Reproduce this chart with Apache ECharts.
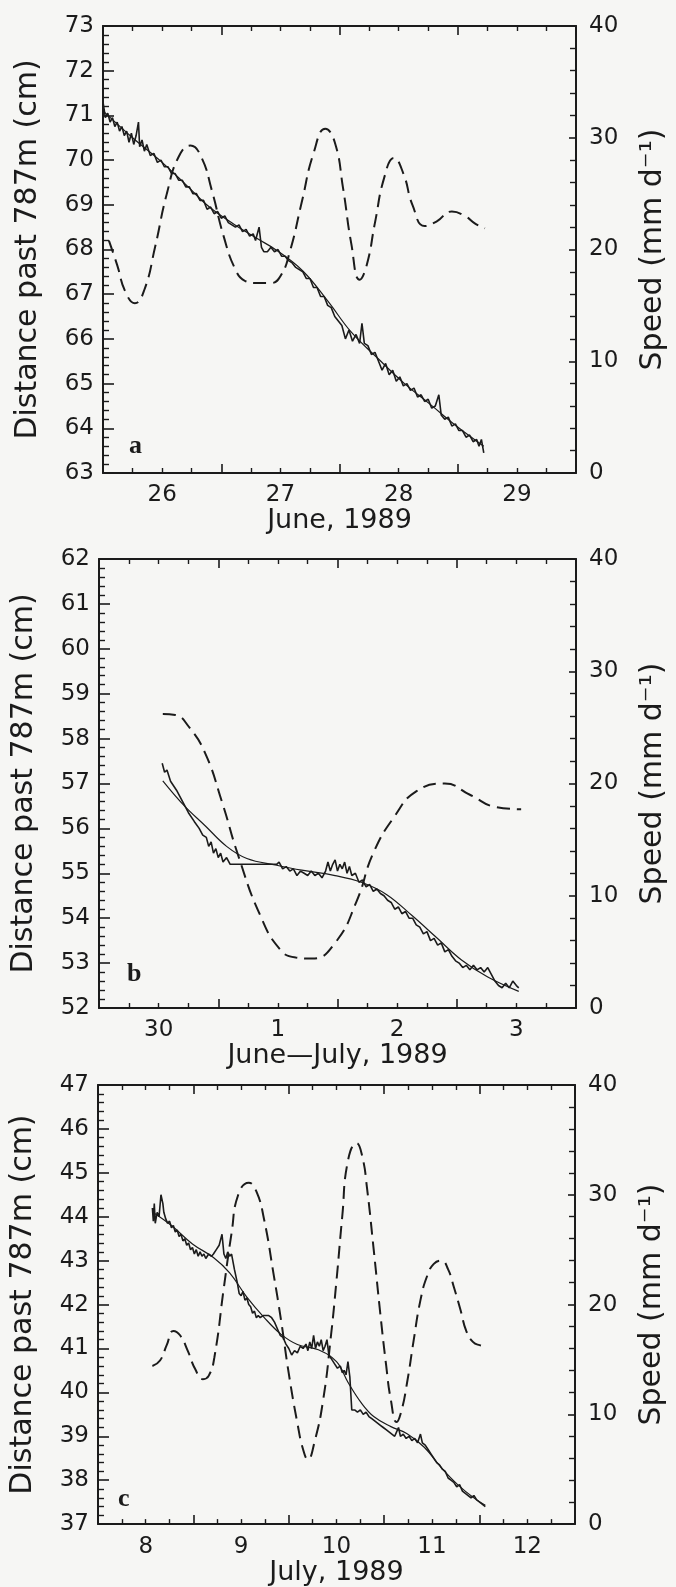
<!DOCTYPE html>
<html>
<head>
<meta charset="utf-8">
<script src="https://cdn.jsdelivr.net/npm/echarts@6/dist/echarts.min.js"></script>
<style>
html,body{margin:0;padding:0;background:#f6f6f4;}
#chart{width:676px;height:1587px;}
</style>
</head>
<body>
<div id="chart"></div>
<script>
// ---------- tick labels / categories ----------
const xLabelsA = ['26', '27', '28', '29'];
const xLabelsB = ['30', '1', '2', '3'];
const xLabelsC = ['8', '9', '10', '11', '12'];
const xTitleA = 'June, 1989';
const xTitleB = 'June\u2014July, 1989';
const xTitleC = 'July, 1989';
const yTitleLeft = 'Distance past 787m (cm)';
const yTitleRight = 'Speed (mm d\u207B\u00B9)';
const panelLetters = ['a', 'b', 'c'];
const daySpans = [4, 4, 5];
const distRangeA = [63, 73];
const distRangeB = [52, 62];
const distRangeC = [37, 47];
const speedRange = [0, 40];

// ---------- panel a (x: days from axis start) ----------
const measuredA = [
[0.00,71.3],[0.02,70.95],[0.04,71.05],[0.06,70.85],[0.08,70.95],[0.10,70.75],[0.12,70.85],[0.14,70.65],
[0.16,70.75],[0.18,70.55],[0.20,70.65],[0.22,70.4],[0.24,70.6],[0.26,70.35],[0.28,70.55],[0.30,70.85],
[0.31,70.3],[0.33,70.45],[0.35,70.2],[0.37,70.35],[0.40,70.1],[0.43,70.15],[0.46,69.95],[0.49,70.0],
[0.52,69.85],[0.55,69.85],[0.58,69.7],[0.61,69.7],[0.64,69.55],[0.67,69.55],[0.70,69.4],[0.73,69.4],
[0.76,69.25],[0.79,69.25],[0.82,69.1],[0.85,69.1],[0.88,68.9],[0.91,68.95],[0.94,68.8],[0.97,68.85],
[1.00,68.7],[1.03,68.75],[1.06,68.6],[1.09,68.55],[1.12,68.5],[1.15,68.55],[1.18,68.4],[1.21,68.45],
[1.24,68.3],[1.27,68.35],[1.29,68.2],[1.32,68.5],[1.34,68.05],[1.36,67.95],[1.39,67.95],[1.42,68.05],
[1.45,67.95],[1.48,68.0],[1.51,67.85],[1.54,67.85],[1.57,67.75],[1.60,67.7],[1.63,67.6],[1.66,67.55],
[1.69,67.5],[1.72,67.35],[1.75,67.35],[1.78,67.15],[1.81,67.15],[1.84,66.95],[1.87,66.95],[1.90,66.75],
[1.93,66.7],[1.96,66.5],[1.99,66.4],[2.02,66.3],[2.05,66.0],[2.08,66.2],[2.11,65.95],[2.14,66.1],
[2.17,65.9],[2.19,66.35],[2.21,65.9],[2.24,65.85],[2.27,65.65],[2.30,65.7],[2.33,65.5],[2.36,65.3],
[2.39,65.45],[2.42,65.2],[2.45,65.3],[2.48,65.05],[2.51,65.15],[2.54,64.95],[2.57,65.0],[2.60,64.85],
[2.63,64.9],[2.66,64.7],[2.69,64.75],[2.72,64.6],[2.75,64.65],[2.78,64.45],[2.81,64.5],[2.84,64.75],
[2.86,64.3],[2.89,64.2],[2.92,64.25],[2.95,64.05],[2.98,64.1],[3.01,63.95],[3.04,63.95],[3.07,63.8],
[3.10,63.85],[3.13,63.7],[3.16,63.75],[3.18,63.6],[3.20,63.75],[3.22,63.45]
];
const fitA = [
[0,71.1],[0.25,70.5],[0.5,69.95],[0.72,69.4],[0.9,68.95],[1.11,68.56],[1.3,68.25],[1.47,67.98],
[1.69,67.52],[1.9,66.85],[2.1,66.15],[2.33,65.55],[2.55,65.0],[2.77,64.53],[2.98,64.07],[3.22,63.6]
];
const speedA = [
[0.05,20.8],[0.12,18.6],[0.19,16.2],[0.27,15.2],[0.35,16.4],[0.44,20.2],[0.54,25.0],[0.64,28.3],
[0.74,29.3],[0.83,28.3],[0.92,25.3],[1.02,21.2],[1.12,18.2],[1.2,17.2],[1.3,17.0],[1.42,17.0],
[1.5,17.6],[1.58,19.8],[1.68,24.2],[1.78,28.6],[1.88,30.8],[1.96,29.6],[2.03,25.5],[2.1,20.5],
[2.17,17.3],[2.23,18.6],[2.3,22.4],[2.38,26.5],[2.46,28.2],[2.54,26.8],[2.62,23.9],[2.72,22.1],
[2.82,22.5],[2.95,23.4],[3.06,23.0],[3.15,22.3],[3.23,21.9]
];

// ---------- panel b ----------
const measuredB = [
[0.53,57.45],[0.55,57.25],[0.57,57.3],[0.60,57.05],[0.65,56.85],[0.70,56.6],[0.75,56.35],[0.80,56.15],
[0.84,56.0],[0.87,55.85],[0.90,55.8],[0.92,55.6],[0.94,55.7],[0.96,55.45],[0.98,55.55],[1.00,55.35],
[1.02,55.45],[1.04,55.25],[1.07,55.35],[1.10,55.2],[1.14,55.2],[1.49,55.2],[1.51,55.25],[1.54,55.1],
[1.57,55.15],[1.60,55.05],[1.63,55.1],[1.66,54.95],[1.69,55.05],[1.72,55.0],[1.75,54.95],[1.78,55.05],
[1.81,54.95],[1.84,55.0],[1.87,54.9],[1.90,55.05],[1.92,55.25],[1.94,55.05],[1.96,55.2],[1.98,55.3],
[2.00,55.05],[2.02,55.2],[2.04,55.1],[2.06,55.25],[2.08,55.0],[2.10,55.15],[2.12,54.95],[2.15,55.0],
[2.18,54.8],[2.21,54.85],[2.24,54.7],[2.27,54.75],[2.30,54.6],[2.33,54.65],[2.36,54.55],[2.39,54.5],
[2.42,54.4],[2.45,54.35],[2.48,54.2],[2.51,54.25],[2.54,54.1],[2.57,54.15],[2.60,54.0],[2.63,54.0],
[2.66,53.85],[2.69,53.8],[2.72,53.65],[2.75,53.7],[2.78,53.5],[2.81,53.55],[2.84,53.4],[2.87,53.45],
[2.90,53.25],[2.93,53.3],[2.96,53.15],[2.99,53.05],[3.02,53.0],[3.05,52.9],[3.08,52.95],[3.11,52.85],
[3.14,52.95],[3.17,52.85],[3.20,52.9],[3.23,52.8],[3.26,52.9],[3.29,52.75],[3.32,52.6],[3.35,52.5],
[3.38,52.45],[3.41,52.55],[3.44,52.45],[3.47,52.6],[3.50,52.5],[3.52,52.45]
];
const fitB = [
[0.535,57.06],[0.71,56.52],[0.89,56.06],[1.07,55.6],[1.24,55.33],[1.49,55.18],[1.70,55.07],[1.98,54.95],
[2.20,54.8],[2.41,54.53],[2.62,54.07],[2.83,53.57],[3.04,53.07],[3.26,52.69],[3.52,52.37]
];
const speedB = [
[0.535,26.2],[0.64,26.1],[0.75,25.1],[0.89,22.7],[1.03,18.4],[1.17,13.5],[1.35,8.3],[1.52,5.2],
[1.65,4.5],[1.79,4.4],[1.98,5.8],[2.16,9.5],[2.30,13.8],[2.48,17.1],[2.66,19.3],[2.90,20.0],
[3.11,19.0],[3.33,17.9],[3.54,17.7]
];

// ---------- panel c ----------
const measuredC = [
[0.57,44.2],[0.58,43.9],[0.59,44.3],[0.60,43.85],[0.62,44.1],[0.64,44.0],[0.66,44.5],[0.68,44.3],
[0.69,44.1],[0.71,43.95],[0.73,43.85],[0.75,43.9],[0.77,43.75],[0.79,43.8],[0.81,43.65],[0.83,43.7],
[0.85,43.55],[0.87,43.6],[0.89,43.45],[0.91,43.5],[0.93,43.35],[0.95,43.4],[0.97,43.25],[0.99,43.3],
[1.01,43.15],[1.03,43.25],[1.05,43.1],[1.07,43.2],[1.09,43.1],[1.11,43.15],[1.13,43.05],[1.16,43.15],
[1.19,43.1],[1.21,43.15],[1.24,43.25],[1.27,43.35],[1.30,43.6],[1.32,43.15],[1.34,43.05],[1.36,43.2],
[1.38,43.1],[1.40,43.15],[1.43,42.8],[1.46,42.5],[1.48,42.25],[1.50,42.2],[1.52,42.3],[1.54,42.1],
[1.56,42.15],[1.58,42.0],[1.60,41.95],[1.62,41.8],[1.64,41.85],[1.66,41.7],[1.68,41.75],[1.70,41.7],
[1.73,41.75],[1.76,41.75],[1.79,41.75],[1.82,41.7],[1.85,41.6],[1.88,41.45],[1.91,41.3],[1.94,41.25],
[1.97,41.1],[2.00,41.0],[2.03,40.85],[2.06,40.95],[2.09,40.9],[2.12,41.05],[2.15,41.0],[2.18,41.1],
[2.20,40.95],[2.22,41.15],[2.24,41.0],[2.26,41.3],[2.28,41.0],[2.30,41.15],[2.32,41.05],[2.34,41.2],
[2.36,40.95],[2.38,41.05],[2.40,41.2],[2.42,40.85],[2.45,40.75],[2.48,40.65],[2.51,40.55],[2.54,40.6],
[2.56,40.45],[2.58,40.5],[2.60,40.4],[2.62,40.7],[2.64,40.35],[2.66,39.6],[2.69,39.6],[2.72,39.55],
[2.75,39.6],[2.78,39.5],[2.81,39.55],[2.84,39.45],[2.87,39.4],[2.90,39.35],[2.93,39.3],[2.96,39.25],
[2.99,39.2],[3.02,39.15],[3.05,39.1],[3.08,39.05],[3.11,39.0],[3.13,39.1],[3.15,39.2],[3.17,39.0],
[3.20,39.05],[3.23,38.95],[3.26,39.0],[3.29,38.9],[3.32,38.95],[3.35,38.85],[3.38,39.05],[3.40,38.85],
[3.43,38.8],[3.46,38.7],[3.49,38.6],[3.52,38.5],[3.55,38.4],[3.58,38.35],[3.61,38.25],[3.64,38.2],
[3.67,38.05],[3.70,38.0],[3.73,37.95],[3.76,37.85],[3.79,37.9],[3.82,37.75],[3.85,37.7],[3.88,37.65],
[3.91,37.6],[3.94,37.65],[3.97,37.55],[4.00,37.5],[4.03,37.45],[4.06,37.4]
];
const fitC = [
[0.59,44.08],[0.77,43.8],[0.99,43.38],[1.21,43.07],[1.38,42.72],[1.56,42.17],[1.74,41.71],[1.92,41.32],
[2.09,41.09],[2.31,40.97],[2.50,40.7],[2.62,40.23],[2.76,39.76],[2.89,39.45],[3.07,39.22],[3.24,39.06],
[3.42,38.75],[3.60,38.28],[3.77,37.9],[3.95,37.58],[4.06,37.43]
];
const speedC = [
[0.57,14.4],[0.65,14.9],[0.72,16.3],[0.79,17.6],[0.86,17.2],[0.94,15.8],[1.02,14.1],[1.10,13.2],
[1.16,13.5],[1.22,15.2],[1.32,21.6],[1.40,26.5],[1.47,30.0],[1.58,31.1],[1.66,30.3],[1.74,27.8],
[1.84,22.8],[1.92,18.5],[2.00,13.7],[2.09,9.2],[2.15,6.8],[2.20,5.9],[2.27,7.5],[2.36,11.3],
[2.44,17.0],[2.50,22.2],[2.56,28.0],[2.62,33.1],[2.71,34.7],[2.77,33.5],[2.82,30.6],[2.89,25.0],
[2.96,19.1],[3.02,14.5],[3.07,11.3],[3.13,9.3],[3.18,10.3],[3.24,12.9],[3.31,16.8],[3.38,20.4],
[3.45,22.6],[3.52,23.7],[3.60,24.0],[3.67,23.2],[3.73,21.6],[3.80,19.5],[3.86,17.6],[3.93,16.6],
[4.00,16.3],[4.08,16.2]
];

// ---------- layout / style ----------
const INK = '#1b1b1b';
const FONT = 'DejaVu Sans';
const grids = [
  {left: 103, top: 26, width: 482, height: 447},
  {left: 99, top: 559, width: 480, height: 449},
  {left: 98, top: 1085, width: 477, height: 448}
];
const panels = [
  {xl: xLabelsA, xt: xTitleA, dr: distRangeA, m: measuredA, f: fitA, s: speedA},
  {xl: xLabelsB, xt: xTitleB, dr: distRangeB, m: measuredB, f: fitB, s: speedB},
  {xl: xLabelsC, xt: xTitleC, dr: distRangeC, m: measuredC, f: fitC, s: speedC}
];

const xAxes = [], yAxes = [], series = [], graphics = [];
panels.forEach((p, i) => {
  const span = daySpans[i];
  const base = xAxes.length;
  const tickAxis = (pos) => ({
    type: 'value', gridIndex: i, position: pos, min: 0, max: span, interval: 1,
    axisLine: {show: true, onZero: false, lineStyle: {color: INK, width: 2}},
    axisTick: {show: true, inside: true, length: 9, lineStyle: {color: INK, width: 1.6}},
    minorTick: {show: true, splitNumber: 4, length: 5, lineStyle: {color: INK, width: 1.4}},
    axisLabel: {show: false}, splitLine: {show: false}, minorSplitLine: {show: false}
  });
  xAxes.push(tickAxis('bottom'));
  xAxes.push({
    type: 'value', gridIndex: i, position: 'bottom', min: 0, max: span, interval: 0.5,
    axisLine: {show: false}, axisTick: {show: false}, splitLine: {show: false},
    axisLabel: {
      show: true, margin: 11, fontFamily: FONT, fontSize: 23, color: INK,
      formatter: (v) => { const k = Math.round(v * 2); return (k % 2 === 1) ? (p.xl[(k - 1) / 2] || '') : ''; }
    },
    name: p.xt, nameLocation: 'middle', nameGap: 34,
    nameTextStyle: {fontFamily: FONT, fontSize: 27, color: INK}
  });
  xAxes.push(tickAxis('top'));
  const yb = yAxes.length;
  yAxes.push({
    type: 'value', gridIndex: i, position: 'left', min: p.dr[0], max: p.dr[1], interval: 1,
    axisLine: {show: true, onZero: false, lineStyle: {color: INK, width: 2}},
    axisTick: {show: true, inside: true, length: 11, lineStyle: {color: INK, width: 1.6}},
    minorTick: {show: true, splitNumber: 5, length: 6, lineStyle: {color: INK, width: 1.4}},
    axisLabel: {margin: 9, fontFamily: FONT, fontSize: 23, color: INK},
    splitLine: {show: false},
    name: yTitleLeft, nameLocation: 'middle', nameGap: 60, nameRotate: 90,
    nameTextStyle: {fontFamily: FONT, fontSize: 30, color: INK}
  });
  yAxes.push({
    type: 'value', gridIndex: i, position: 'right', min: speedRange[0], max: speedRange[1], interval: 10,
    axisLine: {show: true, onZero: false, lineStyle: {color: INK, width: 2}},
    axisTick: {show: true, inside: true, length: 7, lineStyle: {color: INK, width: 1.6}},
    minorTick: {show: true, splitNumber: 5, length: 6, lineStyle: {color: INK, width: 1.4}},
    axisLabel: {margin: 13, fontFamily: FONT, fontSize: 23, color: INK},
    splitLine: {show: false},
    name: yTitleRight, nameLocation: 'middle', nameGap: 62, nameRotate: 90,
    nameTextStyle: {fontFamily: FONT, fontSize: 30, color: INK}
  });
  series.push({
    type: 'line', xAxisIndex: base, yAxisIndex: yb, data: p.m, showSymbol: false, symbol: 'none',
    lineStyle: {color: INK, width: 1.6}, z: 3, animation: false
  });
  series.push({
    type: 'line', xAxisIndex: base, yAxisIndex: yb, data: p.f, showSymbol: false, symbol: 'none', smooth: 0.4,
    lineStyle: {color: INK, width: 1.2}, z: 2, animation: false
  });
  series.push({
    type: 'line', xAxisIndex: base, yAxisIndex: yb + 1, data: p.s, showSymbol: false, symbol: 'none', smooth: 0.5,
    lineStyle: {color: INK, width: 2, type: [13, 7]}, z: 2, animation: false
  });
});

const letterPos = [[129, 433], [127, 961], [118, 1486]];
panelLetters.forEach((t, i) => {
  graphics.push({
    type: 'text', left: letterPos[i][0], top: letterPos[i][1], z: 10,
    style: {text: t, font: 'bold 26px "Liberation Serif"', fill: INK}
  });
});

const chart = echarts.init(document.getElementById('chart'), null, {renderer: 'canvas'});
chart.setOption({
  backgroundColor: '#f6f6f4',
  animation: false,
  grid: grids,
  xAxis: xAxes,
  yAxis: yAxes,
  series: series,
  graphic: graphics
});
</script>
</body>
</html>
